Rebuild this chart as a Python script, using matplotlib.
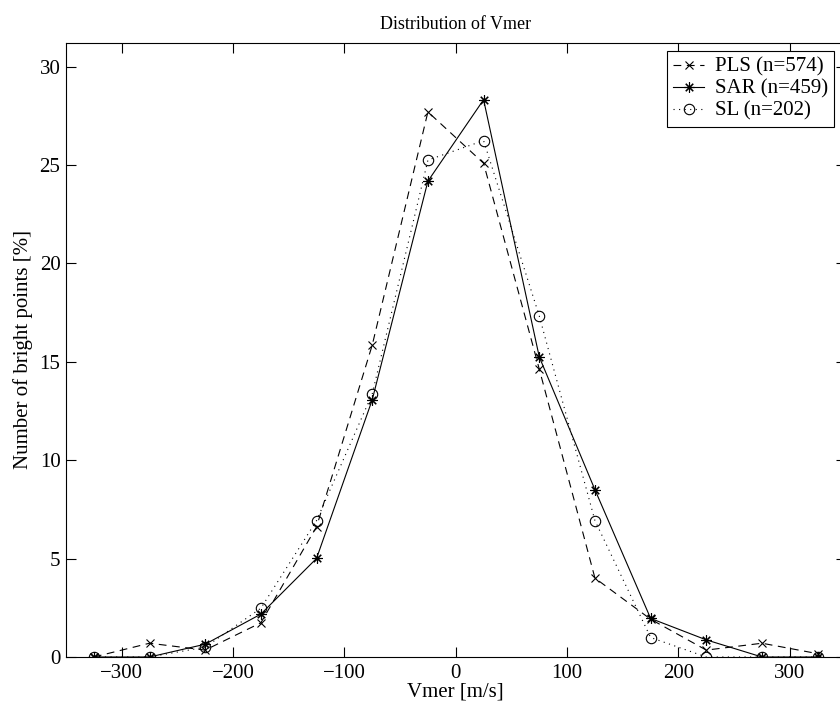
import numpy as np
import matplotlib
matplotlib.use('Agg')
import matplotlib.pyplot as plt

# bin centres [m/s]
vmer = [-325, -275, -225, -175, -125, -75, -25, 25, 75, 125, 175, 225, 275, 325]

# percentage of bright points per bin
pls = [0, 0.70, 0.35, 1.74, 6.62, 15.85, 27.70, 25.09, 14.63, 4.01, 1.92, 0.35, 0.70, 0.17]
sar = [0, 0, 0.65, 2.18, 5.01, 13.07, 24.18, 28.32, 15.25, 8.50, 1.96, 0.87, 0, 0]
sl = [0, 0, 0.50, 2.48, 6.93, 13.37, 25.25, 26.24, 17.33, 6.93, 0.99, 0, 0, 0]

labels = ['PLS (n=574)', 'SAR (n=459)', 'SL (n=202)']

plt.rcParams['font.family'] = ['Liberation Serif', 'DejaVu Serif']
plt.rcParams['font.size'] = 15

fig = plt.figure(figsize=(8.4, 7.06), dpi=100)
# right edge of the axes lies just past the figure edge, as in the original
ax = fig.add_axes([66/840, 49/706, (845.5-66)/840, 614/706])

lw = 0.8
ax.plot(vmer, pls, color='k', ls=(0, (7, 5)), lw=lw, marker='x', ms=6,
        mew=0.8, label=labels[0])
ax.plot(vmer, sar, color='k', ls='-', lw=lw, marker=(8, 2, 0), ms=7.5,
        mew=0.8, label=labels[1])
ax.plot(vmer, sl, color='k', ls=(0, (1, 4)), lw=lw, marker='o', ms=7.5,
        mew=0.8, mfc='none', label=labels[2])

ax.set_xlim(-350, 350)
ax.set_ylim(0, 31.2)
ax.set_xticks([-300, -200, -100, 0, 100, 200, 300])
ax.set_yticks([0, 5, 10, 15, 20, 25, 30])
ax.set_xticklabels(['\u2212300', '\u2212200', '\u2212100', '0', '100', '200', '300'])
ax.tick_params(direction='in', length=7, width=0.8, top=True, right=True)
ax.tick_params(axis='y', pad=4)
ax.tick_params(axis='x', pad=5)
for s in ax.spines.values():
    s.set_linewidth(0.8)

ax.set_title('Distribution of Vmer', fontsize=13, pad=10)
ax.set_xlabel('Vmer [m/s]', labelpad=0)
ax.set_ylabel('Number of bright points [%]', labelpad=5)

leg = ax.legend(loc='upper right', bbox_to_anchor=(0.9853, 0.987), fancybox=False,
                edgecolor='k', framealpha=1, handlelength=1.5, borderpad=0.3,
                labelspacing=0.12, handletextpad=0.5, borderaxespad=0)
leg.get_frame().set_linewidth(0.8)

fig.savefig('out.png', dpi=100)
